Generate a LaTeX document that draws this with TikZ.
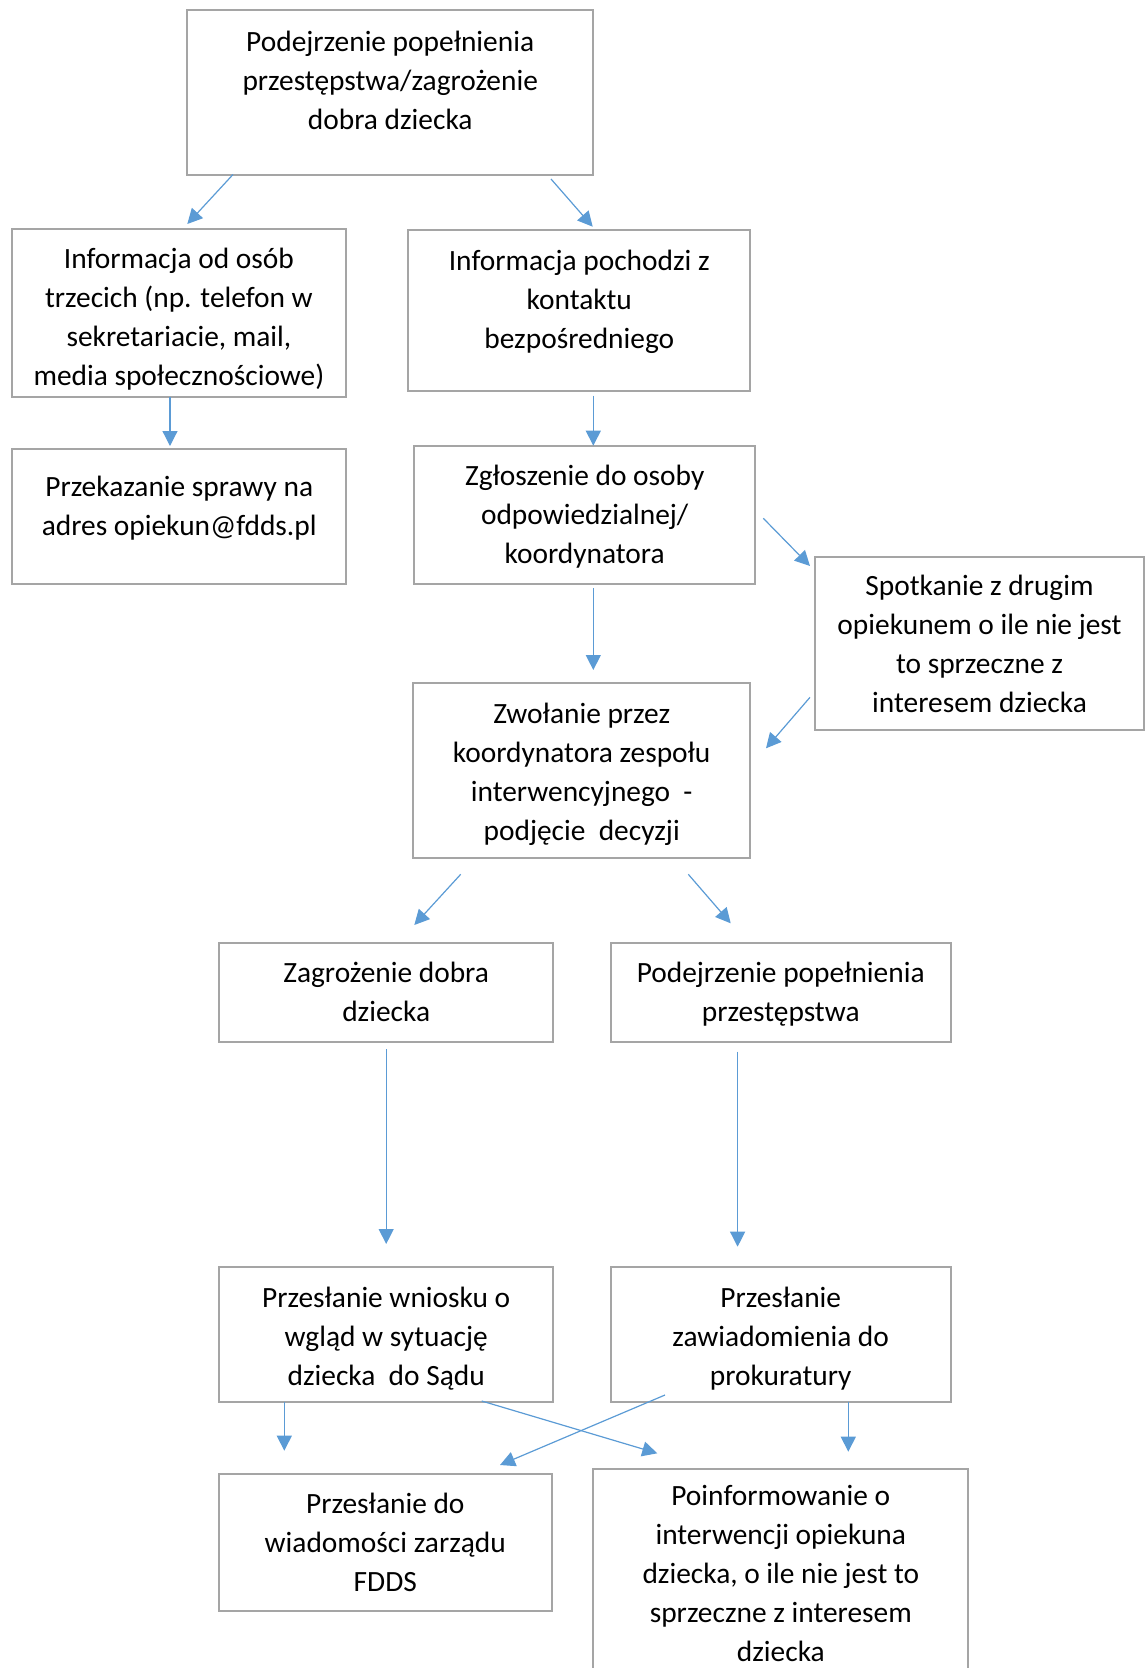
\documentclass[tikz,border=0pt]{standalone}
\usepackage{fontspec}
\setmainfont{Carlito}
\usetikzlibrary{arrows.meta}
\definecolor{boxgray}{HTML}{A5A5A5}
\definecolor{arrblue}{HTML}{5B9BD5}
\begin{document}
\begin{tikzpicture}[
        x=1pt, y=-1pt,
        boxn/.style={draw=boxgray, line width=2pt, rectangle, anchor=north, align=center,
            inner xsep=0pt, inner ysep=0pt, font=\fontsize{29.4}{39}\selectfont},
        arr/.style={draw=arrblue, line width=1.2pt, -{Triangle[length=15pt, width=15pt]}},
    ]
    \useasboundingbox (0,0) rectangle (1145,1668);
    \node[boxn, minimum width=406.5pt, text height=120pt, text depth=45.5pt] (top) at (390.2,8.5)
        {Podejrzenie popełnienia\\przestępstwa/zagrożenie\\dobra dziecka};
    \node[boxn, minimum width=334.3pt, text height=157pt, text depth=11pt] (info3) at (178.9,227.7)
        {Informacja od osób\\trzecich (np. telefon w\\sekretariacie, mail,\\media społecznościowe)};
    \node[boxn, minimum width=341.8pt, text height=118pt, text depth=43.3pt] (infobezp) at (579.3,229)
        {Informacja pochodzi z\\kontaktu\\bezpośredniego};
    \node[boxn, minimum width=334.5pt, text height=86pt, text depth=49pt] (przek) at (179.2,448)
        {Przekazanie sprawy na\\adres opiekun@fdds.pl};
    \node[boxn, minimum width=341.5pt, text height=118pt, text depth=20.2pt] (zglosz) at (584.7,444.8)
        {Zgłoszenie do osoby\\odpowiedzialnej/\\koordynatora};
    \node[boxn, minimum width=329pt, text height=155pt, text depth=18pt] (spotk) at (979.5,556)
        {Spotkanie z drugim\\opiekunem o ile nie jest\\to sprzeczne z\\interesem dziecka};
    \node[boxn, minimum width=336.5pt, text height=157pt, text depth=18pt] (zwol) at (581.7,682.3)
        {Zwołanie przez\\koordynatora zespołu\\interwencyjnego~~-\\podjęcie~~decyzji};
    \node[boxn, minimum width=334.3pt, text height=79pt, text depth=20pt] (zagroz) at (386.2,941.7)
        {Zagrożenie dobra\\dziecka};
    \node[boxn, minimum width=340pt, text height=79pt, text depth=20pt] (podejrz) at (780.7,941.7)
        {Podejrzenie popełnienia\\przestępstwa};
    \node[boxn, minimum width=334.3pt, text height=118pt, text depth=17pt] (wniosek) at (386.2,1266)
        {Przesłanie wniosku o\\wgląd w sytuację\\dziecka~~do Sądu};
    \node[boxn, minimum width=340pt, text height=118pt, text depth=17pt] (zawiad) at (780.7,1266)
        {Przesłanie\\zawiadomienia do\\prokuratury};
    \node[boxn, minimum width=332.7pt, text height=118pt, text depth=19.3pt] (zarzad) at (385.3,1472.7)
        {Przesłanie do\\wiadomości zarządu\\FDDS};
    \node[boxn, minimum width=375pt, text height=192pt, text depth=60pt] (poinf) at (780.8,1468.3)
        {Poinformowanie o\\interwencji opiekuna\\dziecka, o ile nie jest to\\sprzeczne z interesem\\dziecka};

    \coordinate (top-sw) at (233,174.5);
    \coordinate (info3-n) at (187.3,224);
    \coordinate (top-se) at (551,179);
    \coordinate (infobezp-n) at (592.7,226.7);
    \coordinate (info3-s) at (170,396.7);
    \coordinate (przek-n) at (170,446);
    \coordinate (infobezp-s) at (593.3,395.7);
    \coordinate (zglosz-n) at (593.3,445.7);
    \coordinate (zglosz-e) at (763.3,518.3);
    \coordinate (spotk-nw) at (810,566);
    \coordinate (zglosz-s) at (593.3,588.4);
    \coordinate (zwol-n) at (593.3,670);
    \coordinate (spotk-sw) at (810,697.3);
    \coordinate (zwol-ne) at (766,748.3);
    \coordinate (zwol-sw) at (460.7,874.3);
    \coordinate (zagroz-n) at (414.3,925);
    \coordinate (zwol-se) at (688.3,874.3);
    \coordinate (podejrz-n) at (730.7,923.3);
    \coordinate (zagroz-s) at (386.2,1049.3);
    \coordinate (wniosek-n) at (386.2,1244);
    \coordinate (podejrz-s) at (737.6,1051.7);
    \coordinate (zawiad-n) at (737.6,1246.7);
    \coordinate (wniosek-sw) at (284.3,1401.7);
    \coordinate (zarzad-n) at (284.3,1450.7);
    \coordinate (wniosek-se) at (481.7,1401);
    \coordinate (poinf-nw) at (657.3,1453.3);
    \coordinate (zawiad-sw) at (665,1395);
    \coordinate (zarzad-ne) at (500,1465);
    \coordinate (zawiad-se) at (848.3,1401.7);
    \coordinate (poinf-n) at (848.3,1451.7);

    \draw[arr] (top-sw) -- (info3-n);
    \draw[arr] (top-se) -- (infobezp-n);
    \draw[arr] (info3-s) -- (przek-n);
    \draw[arr] (infobezp-s) -- (zglosz-n);
    \draw[arr] (zglosz-e) -- (spotk-nw);
    \draw[arr] (zglosz-s) -- (zwol-n);
    \draw[arr] (spotk-sw) -- (zwol-ne);
    \draw[arr] (zwol-sw) -- (zagroz-n);
    \draw[arr] (zwol-se) -- (podejrz-n);
    \draw[arr] (zagroz-s) -- (wniosek-n);
    \draw[arr] (podejrz-s) -- (zawiad-n);
    \draw[arr] (wniosek-sw) -- (zarzad-n);
    \draw[arr] (wniosek-se) -- (poinf-nw);
    \draw[arr] (zawiad-sw) -- (zarzad-ne);
    \draw[arr] (zawiad-se) -- (poinf-n);
\end{tikzpicture}
\end{document}
